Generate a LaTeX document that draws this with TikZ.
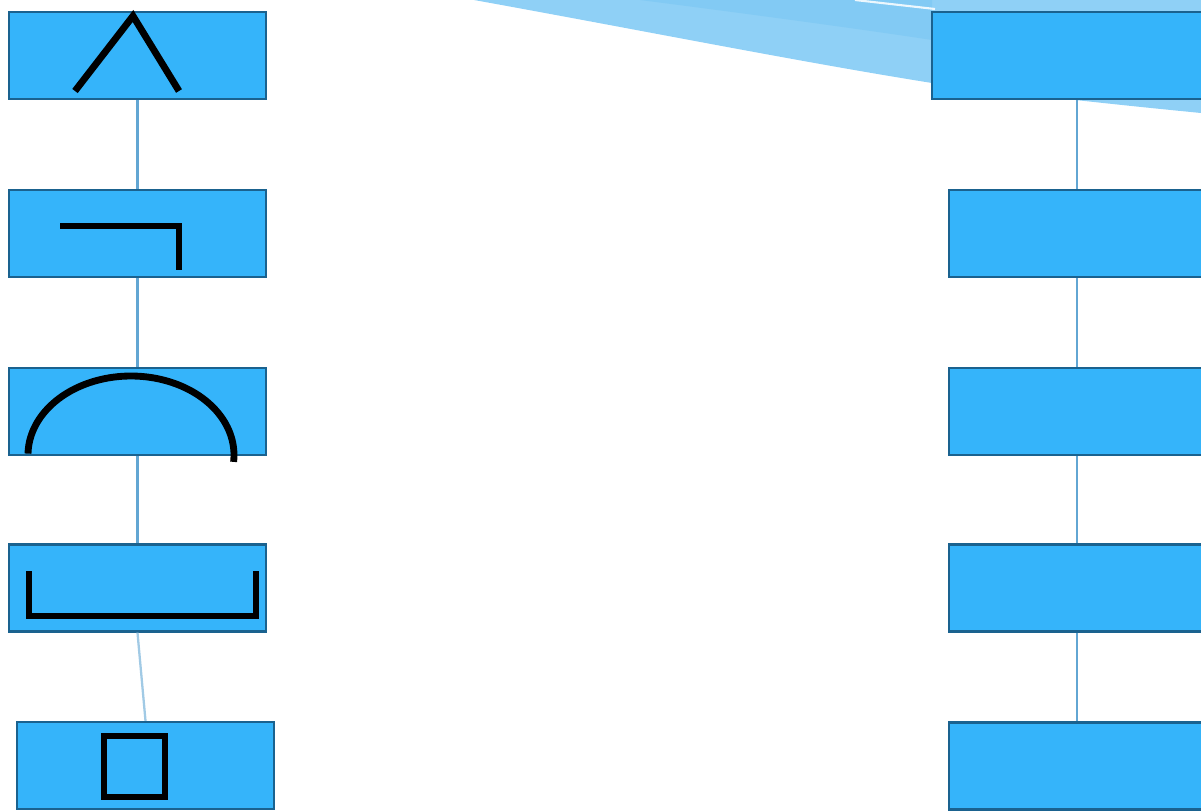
\documentclass[tikz,border=0pt]{standalone}
\begin{document}
\begin{tikzpicture}[x=0.02cm,y=-0.02cm,
  box/.style={draw=boxedge,fill=boxfill,line width=1.3pt,inner sep=0pt,minimum height=1.74cm},
  lbox/.style={box,minimum width=5.14cm},
  rbox/.style={box,minimum width=5.66cm},
  link/.style={draw=linkcol,line width=1.3pt},
  glyph/.style={draw=black,line width=3.9pt}]
\definecolor{boxfill}{HTML}{35B4FA}
\definecolor{boxedge}{HTML}{1A628F}
\definecolor{linkcol}{HTML}{62A6D3}
\definecolor{fanlight}{HTML}{8FD0F6}
\definecolor{fandark}{HTML}{82CAF4}
\useasboundingbox (0,0) rectangle (1201,811);
\clip (0,0) rectangle (1201,811);
% fan band at top
\fill[fanlight] (474,0) .. controls (640,30) and (800,62) .. (932,83)
  .. controls (1050,98) and (1150,108) .. (1201,113) -- (1201,0) -- cycle;
\fill[fandark] (640,0) .. controls (780,18) and (880,32) .. (932,40) -- (932,0) -- cycle;
\draw[white,line width=1.2pt,opacity=0.85] (855,0) -- (935,9);
% left column
\node[lbox] (L1) at (137.5,55.5) {};
\node[lbox] (L2) at (137.5,233.5) {};
\node[lbox] (L3) at (137.5,411.5) {};
\node[lbox] (L4) at (137.5,588) {};
\node[lbox] (L5) at (145.5,765.5) {};
% right column
\node[rbox,minimum width=6.0cm] (R1) at (1082,55.5) {};
\node[rbox] (R2) at (1090.5,233.5) {};
\node[rbox] (R3) at (1090.5,411.5) {};
\node[rbox] (R4) at (1090.5,588) {};
\node[rbox] (R5) at (1090.5,766) {};
\coordinate (xr) at (1077,0);
% connectors
\draw[link] (L1.south) -- (L2.north);
\draw[link] (L2.south) -- (L3.north);
\draw[link] (L3.south) -- (L4.north);
\draw[link,draw=linkcol!60] (L4.south) -- (L5.north);
\draw[link] (R1.south -| xr) -- (R2.north -| xr);
\draw[link] (R2.south -| xr) -- (R3.north -| xr);
\draw[link] (R3.south -| xr) -- (R4.north -| xr);
\draw[link] (R4.south -| xr) -- (R5.north -| xr);
% glyphs
\draw[glyph] (75,91) -- (133,16) -- (179,91);
\draw[glyph] (60,226) -- (182,226) (179,226) -- (179,270);
\draw[glyph] plot[domain=181:365,samples=80] ({131+103*cos(\x)},{455+79*sin(\x)});
\draw[glyph] (29,571) -- (29,616) -- (256,616) -- (256,571);
\draw[glyph] (104,736) rectangle (165,797);
\end{tikzpicture}
\end{document}
